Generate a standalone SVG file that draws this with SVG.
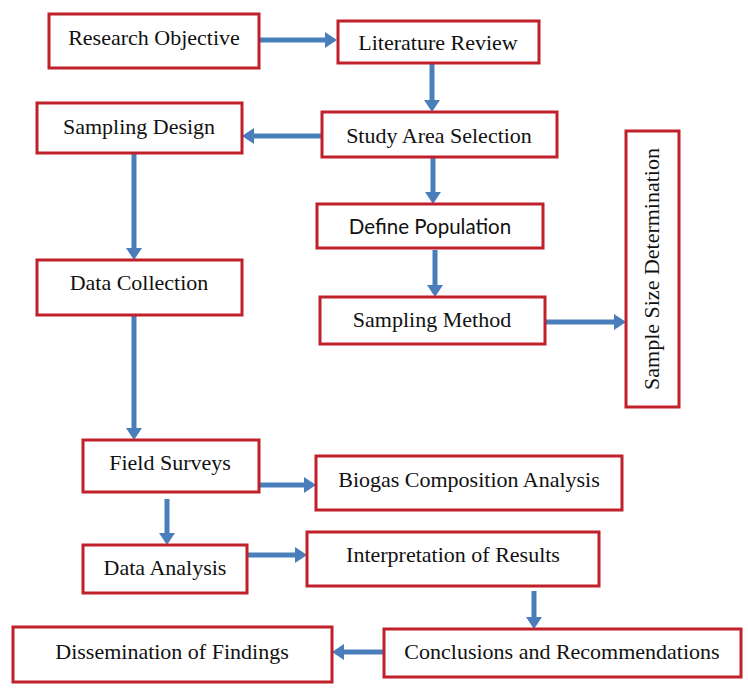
<svg xmlns="http://www.w3.org/2000/svg" width="748" height="689" viewBox="0 0 748 689">
<style>
.box{fill:#fff;stroke:#c0202a;stroke-width:3}
.t{font-family:"Liberation Serif","Times New Roman",serif;font-size:22px;fill:#111;text-anchor:middle}
.s{font-family:Lato,"Noto Sans",sans-serif;font-size:20.5px;fill:#111;text-anchor:middle}
.c{stroke:#4a7ebb;stroke-width:5;fill:none}
</style>
<defs>
<marker id="ah" markerUnits="userSpaceOnUse" markerWidth="12" markerHeight="16" viewBox="0 0 12 16" refX="0" refY="8" orient="auto">
<path d="M0,0 L12,8 L0,16 Z" fill="#4a7ebb"/>
</marker>
</defs>
<rect width="748" height="689" fill="#fff"/>
<g id="connectors">
<line class="c" x1="259" y1="40" x2="325" y2="40" marker-end="url(#ah)"/>
<line class="c" x1="432" y1="63" x2="432" y2="100" marker-end="url(#ah)"/>
<line class="c" x1="322" y1="136" x2="254" y2="136" marker-end="url(#ah)"/>
<line class="c" x1="433" y1="157" x2="433" y2="192" marker-end="url(#ah)"/>
<line class="c" x1="435" y1="250" x2="435" y2="285" marker-end="url(#ah)"/>
<line class="c" x1="545" y1="322" x2="614" y2="322" marker-end="url(#ah)"/>
<line class="c" x1="134" y1="153" x2="134" y2="248" marker-end="url(#ah)"/>
<line class="c" x1="134" y1="315" x2="134" y2="428" marker-end="url(#ah)"/>
<line class="c" x1="259" y1="485" x2="304" y2="485" marker-end="url(#ah)"/>
<line class="c" x1="167" y1="499" x2="167" y2="533" marker-end="url(#ah)"/>
<line class="c" x1="247" y1="555" x2="295" y2="555" marker-end="url(#ah)"/>
<line class="c" x1="534" y1="591" x2="534" y2="617" marker-end="url(#ah)"/>
<line class="c" x1="384" y1="652" x2="344" y2="652" marker-end="url(#ah)"/>
</g>
<g id="research-objective"><rect class="box" x="49" y="14" width="210" height="54"/><text class="t" x="154" y="45">Research Objective</text></g>
<g id="literature-review"><rect class="box" x="338" y="21" width="201" height="42"/><text class="t" x="438" y="50">Literature Review</text></g>
<g id="sampling-design"><rect class="box" x="37" y="103" width="205" height="50"/><text class="t" x="139" y="134">Sampling Design</text></g>
<g id="study-area-selection"><rect class="box" x="322" y="112" width="235" height="45"/><text class="t" x="439" y="143">Study Area Selection</text></g>
<g id="sample-size-determination"><rect class="box" x="626" y="131" width="53" height="276"/><text class="t" transform="translate(659,269) rotate(-90)">Sample Size Determination</text></g>
<g id="define-population"><rect class="box" x="317" y="204" width="226" height="44"/><text class="s" x="430" y="234">Define Population</text></g>
<g id="sampling-method"><rect class="box" x="320" y="297" width="225" height="47"/><text class="t" x="432" y="327">Sampling Method</text></g>
<g id="data-collection"><rect class="box" x="37" y="260" width="205" height="55"/><text class="t" x="139" y="290">Data Collection</text></g>
<g id="field-surveys"><rect class="box" x="83" y="440" width="176" height="52"/><text class="t" x="170" y="470">Field Surveys</text></g>
<g id="biogas-composition-analysis"><rect class="box" x="316" y="456" width="306" height="54"/><text class="t" x="469" y="487">Biogas Composition Analysis</text></g>
<g id="data-analysis"><rect class="box" x="83" y="545" width="164" height="48"/><text class="t" x="165" y="575">Data Analysis</text></g>
<g id="interpretation-of-results"><rect class="box" x="307" y="532" width="292" height="54"/><text class="t" x="453" y="562">Interpretation of Results</text></g>
<g id="conclusions-and-recommendations"><rect class="box" x="384" y="629" width="357" height="48"/><text class="t" x="562" y="659">Conclusions and Recommendations</text></g>
<g id="dissemination-of-findings"><rect class="box" x="13" y="627" width="319" height="55"/><text class="t" x="172" y="659">Dissemination of Findings</text></g>
</svg>
